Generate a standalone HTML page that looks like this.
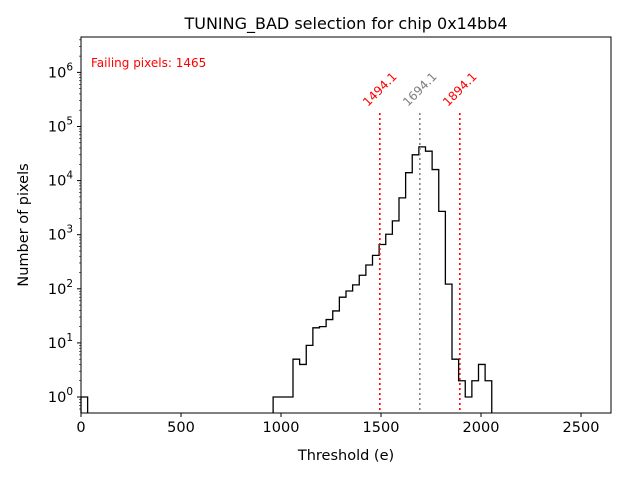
<!DOCTYPE html>
<html><head><meta charset="utf-8"><style>
body{margin:0;background:#fff;}
svg text{font-family:"DejaVu Sans","Liberation Sans",sans-serif;}
</style></head><body>
<svg id="chart" width="640" height="480" xmlns="http://www.w3.org/2000/svg">
<rect width="640" height="480" fill="#fff"/>
<text x="346" y="29" font-size="16" text-anchor="middle">TUNING_BAD selection for chip 0x14bb4</text>
<text x="346" y="460" font-size="14.5" text-anchor="middle">Threshold (e)</text>
<text x="0" y="0" font-size="14.5" text-anchor="middle" transform="translate(28,225) rotate(-90)">Number of pixels</text>
<text x="91" y="67" font-size="12" fill="red">Failing pixels: 1465</text>
<g id="plot"></g>
</svg>
<script>
const binWidth = 33.125;
const binStarts = [0,29,30,31,32,33,34,35,36,37,38,39,40,41,42,43,44,45,46,47,48,49,50,51,52,53,54,55,56,57,58,59,60,61];
const counts = [1,1,1,1,5,4,9,19,20,27,39,70,91,118,178,275,415,660,1020,1800,4800,14000,30000,42000,35000,16000,2700,122,5,2,1,2,4,2];
const xTicks = [0,500,1000,1500,2000,2500];
const yTicks = [0,1,2,3,4,5,6];
const cutLines = [1494.1,1694.1,1894.1];
const cutColors = ["red","gray","red"];

const L=81,R=611,T=37,B=413;
const xMax=2650;
const yLog0=397, dec=54.1;
function xs(v){return L+(v/xMax)*(R-L);}
function ys(v){return yLog0-Math.log10(v)*dec;}
const NS="http://www.w3.org/2000/svg";
const g=document.getElementById('plot');
function mk(tag,attrs){const e=document.createElementNS(NS,tag);for(const k in attrs)e.setAttribute(k,attrs[k]);g.appendChild(e);return e;}

let d="";let prevEnd=null;
for(let i=0;i<binStarts.length;i++){
  const x0=xs(binStarts[i]*binWidth),x1=xs((binStarts[i]+1)*binWidth),y=ys(counts[i]);
  if(prevEnd===null||Math.abs(prevEnd-x0)>0.01){ if(prevEnd!==null)d+=` L${prevEnd},${B}`; d+=` M${x0},${B} L${x0},${y}`; }
  else d+=` L${x0},${y}`;
  d+=` L${x1},${y}`;
  prevEnd=x1;
}
d+=` L${prevEnd},${B}`;
const hp=mk('path',{d:d,fill:'none',stroke:'#000','stroke-width':1.3});



for(let i=0;i<cutLines.length;i++){
  const x=xs(cutLines[i]);
  const ln=mk('line',{x1:x,x2:x,y1:113,y2:B,stroke:cutColors[i],'stroke-width':1.6,'stroke-dasharray':'2,3'});
  
  
  const t=mk('text',{x:0,y:0,'font-size':12,fill:cutColors[i],'text-anchor':'start',transform:`translate(${x-12},${107}) rotate(-45)`});
  t.textContent=cutLines[i].toFixed(1);
  
  
}

const fr=mk('rect',{x:L,y:T,width:R-L,height:B-T,fill:'none',stroke:'#000','stroke-width':1});



for(const v of xTicks){
  const x=xs(v);
  const tk=mk('line',{x1:x,x2:x,y1:B,y2:B+4,stroke:'#000'});
  
  
  const t=mk('text',{x:x,y:B+19,'font-size':14.5,'text-anchor':'middle'});
  t.textContent=v;
  
  
}
for(const p of yTicks){
  const y=ys(Math.pow(10,p));
  const tk=mk('line',{x1:L-4,x2:L,y1:y,y2:y,stroke:'#000'});
  
  
  const t=mk('text',{x:L-8,y:y+5,'font-size':14.5,'text-anchor':'end'});
  t.innerHTML='10<tspan dy="-7" font-size="10.5">'+p+'</tspan>';
  
  
}
for(let p=-1;p<=6;p++){for(let m=2;m<=9;m++){const y=ys(m*Math.pow(10,p));if(y<T||y>B)continue;
  const tk=mk('line',{x1:L-2,x2:L,y1:y,y2:y,stroke:'#000','stroke-width':0.6});
  
  
}}
</script>
</body></html>
